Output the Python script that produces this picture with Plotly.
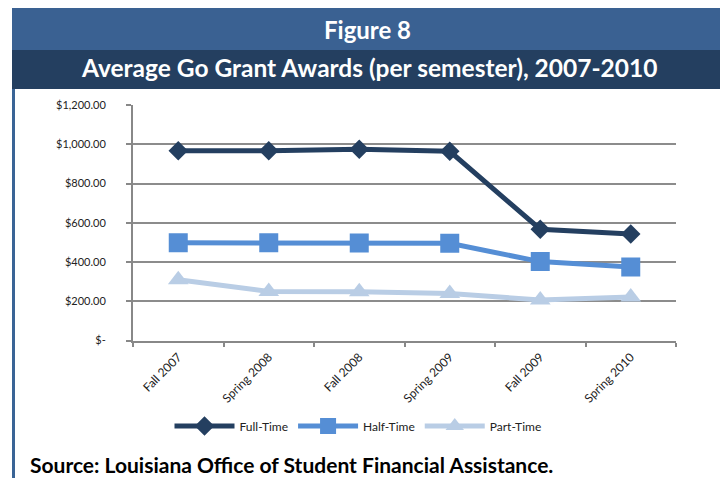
import plotly.graph_objects as go

categories = ["Fall 2007", "Spring 2008", "Fall 2008", "Spring 2009", "Fall 2009", "Spring 2010"]
full_time = [967, 967, 974, 964, 567, 543]
half_time = [498, 498, 497, 495, 402, 374]
part_time = [310, 250, 249, 240, 206, 222]
y_ticks = [0, 200, 400, 600, 800, 1000, 1200]
y_tick_labels = ["$-", "$200.00", "$400.00", "$600.00", "$800.00", "$1,000.00", "$1,200.00"]

# The page body keeps an 8px default margin, so the figure is sized to fit the window.
OFF = 8
W, H = 728 - OFF, 478 - OFF
FONT = "Lato"


def px(x):
    return (x - OFF) / W


def py(y):
    return 1 - (y - OFF) / H


fig = go.Figure()
series = [
    ("Full-Time", full_time, "#243F60", "diamond", 15),
    ("Half-Time", half_time, "#558ED5", "square", 19),
    ("Part-Time", part_time, "#B9CDE5", "triangle-up", 18),
]
for name, vals, color, sym, size in series:
    fig.add_trace(go.Scatter(
        x=categories, y=vals, name=name, mode="lines+markers",
        line=dict(color=color, width=5),
        marker=dict(symbol=sym, size=size, color=color),
    ))

shapes = [
    dict(type="rect", xref="paper", yref="paper", x0=px(13.5), x1=px(723.5), y0=py(490), y1=py(9.5),
         line=dict(color="#3A6496", width=3), fillcolor="rgba(0,0,0,0)", layer="below"),
    dict(type="rect", xref="paper", yref="paper", x0=px(12), x1=px(725), y0=py(50), y1=py(8),
         line=dict(width=0), fillcolor="#3A6192", layer="below"),
    dict(type="rect", xref="paper", yref="paper", x0=px(12), x1=px(725), y0=py(89), y1=py(50),
         line=dict(width=0), fillcolor="#243F60", layer="below"),
]

annotations = [
    dict(text="<b>Figure 8</b>", xref="paper", yref="paper", x=px(367), y=py(29),
         showarrow=False, font=dict(family=FONT, size=24, color="white"), xanchor="center", yanchor="middle"),
    dict(text="<b>Average Go Grant Awards (per semester), 2007-2010</b>", xref="paper", yref="paper",
         x=px(369), y=py(68), showarrow=False, font=dict(family=FONT, size=24.5, color="white"),
         xanchor="center", yanchor="middle"),
    dict(text="<b>Source: Louisiana Office of Student Financial Assistance.</b>", xref="paper", yref="paper",
         x=px(28), y=py(464), showarrow=False, font=dict(family=FONT, size=21, color="black"),
         xanchor="left", yanchor="middle"),
]

fig.update_layout(
    width=W, height=H,
    margin=dict(l=0, r=0, t=0, b=0, pad=0, autoexpand=False),
    paper_bgcolor="white", plot_bgcolor="white",
    font=dict(family=FONT, color="#222222"),
    showlegend=True,
    legend=dict(orientation="h", x=px(358), y=py(426), xanchor="center", yanchor="middle",
                font=dict(family=FONT, size=12, color="#222222"), itemwidth=60,
                bgcolor="rgba(0,0,0,0)"),
    xaxis=dict(domain=[px(133), px(676)], type="category", range=[-0.5, 5.5], automargin=False,
               showgrid=False, showline=True, linecolor="#888888", linewidth=2,
               ticks="outside", tickson="boundaries", ticklen=4, tickcolor="#888888", tickwidth=1.5,
               tickangle=-45, ticklabelstandoff=3,
               tickfont=dict(family=FONT, size=12, color="#222222")),
    yaxis=dict(domain=[py(340.5), py(105)], range=[0, 1200], tickvals=y_ticks, ticktext=y_tick_labels,
               automargin=False,
               showgrid=True, gridcolor="#8C8C8C", gridwidth=1.5, zeroline=False,
               showline=True, linecolor="#888888", linewidth=2,
               ticks="outside", ticklen=5, tickcolor="#888888", tickwidth=1.5,
               tickfont=dict(family=FONT, size=11, color="#222222"), ticklabelstandoff=18),
    shapes=shapes,
    annotations=annotations,
)

fig.write_html("out.html")
